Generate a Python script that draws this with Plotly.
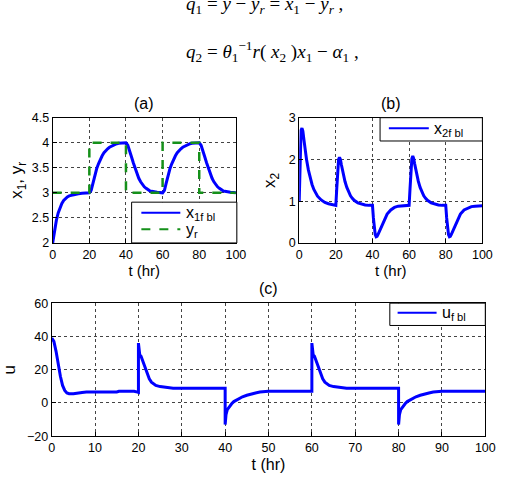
import plotly.graph_objects as go

# ---------------- data ----------------
t_x1 = [0,1,2,3,4,5,6,7,8,9,10,12,14,16,18,20,
        21,22,23,24,25,26,27,28,29,30,31,32,33,34,35,36,38,40,
        41,42,43,44,45,46,47,48,49,50,51,52,53,54,55,57,60,
        61,62,63,64,65,66,67,68,69,70,71,72,73,74,75,76,78,80,
        81,82,83,84,85,86,87,88,89,90,91,92,93,94,95,97,100]
x1 = [2.0,2.25,2.45,2.6,2.71,2.79,2.85,2.89,2.92,2.94,2.95,2.97,2.98,2.99,3.0,3.0,
      3.05,3.2,3.35,3.48,3.58,3.67,3.74,3.8,3.85,3.88,3.91,3.93,3.95,3.97,3.98,3.99,4.0,4.0,
      3.95,3.85,3.72,3.6,3.48,3.38,3.29,3.22,3.16,3.12,3.09,3.06,3.04,3.03,3.02,3.01,3.0,
      3.05,3.2,3.35,3.48,3.58,3.67,3.74,3.8,3.85,3.88,3.91,3.93,3.95,3.97,3.98,3.99,4.0,4.0,
      3.95,3.85,3.72,3.6,3.48,3.38,3.29,3.22,3.16,3.12,3.09,3.06,3.04,3.03,3.02,3.01,3.0]

t_yr = [0,20,20,40,40,60,60,80,80,100]
yr = [3,3,4,4,3,3,4,4,3,3]

t_x2 = [0,0.5,1,1.5,2,2.5,3,4,5,6,7,8,9,10,12,14,16,18,20,
        20.5,21,21.5,22,22.5,23,24,25,26,27,28,29,30,32,34,36,38,40,
        40.5,41,41.5,42,42.5,43,44,45,46,47,48,50,52,54,56,58,60,
        60.5,61,61.5,62,62.5,63,64,65,66,67,68,69,70,72,74,76,78,80,
        80.5,81,81.5,82,82.5,83,84,85,86,87,88,90,92,94,96,98,100]
x2 = [1.0,2.2,2.7,2.75,2.68,2.5,2.3,2.0,1.75,1.55,1.4,1.28,1.19,1.12,1.03,0.97,0.94,0.92,0.9,
      1.3,1.75,2.0,2.05,2.0,1.88,1.65,1.47,1.33,1.22,1.13,1.07,1.02,0.96,0.93,0.91,0.9,0.9,
      0.6,0.35,0.2,0.15,0.16,0.2,0.3,0.42,0.52,0.62,0.69,0.79,0.85,0.88,0.89,0.9,0.9,
      1.3,1.75,2.02,2.08,2.02,1.9,1.66,1.48,1.33,1.22,1.13,1.07,1.02,0.96,0.93,0.91,0.9,0.9,
      0.6,0.35,0.2,0.15,0.16,0.2,0.3,0.42,0.52,0.62,0.69,0.79,0.84,0.87,0.88,0.89,0.89]

t_u = [0,0.5,1,1.5,2,2.5,3,3.5,4,5,6,7,8,10,12,14,15,15.5,17,19,19.8,20,
       20,20.3,20.6,21,21.5,22,22.5,23,23.5,24,25,26,27,27.5,28,30,35,40,
       40,40.2,40.5,41,41.5,42,43,44,45,46,47,48,49,50,55,60,
       60,60.3,60.6,61,61.5,62,62.5,63,63.5,64,65,66,67,67.5,68,70,75,80,
       80,80.2,80.5,81,81.5,82,83,84,85,86,87,88,89,90,95,100]
u = [39,37,31,23,16,10.5,7.5,6,5.5,5.5,6,6.3,6.5,6.5,6.5,6.5,6.6,7,7,7,6.5,6.3,
     36,29,28,25,21,17,14.5,12.5,11.3,10.5,9.8,9.5,9.5,9.0,8.8,8.8,8.8,8.8,
     -13,-7,-4,-2,-0.5,0.8,2.5,3.7,4.6,5.4,6.0,6.5,6.8,7,7,7,
     36,29,28,25,21,17,14.5,12.5,11.3,10.5,9.8,9.5,9.5,9.0,8.8,8.8,8.8,8.8,
     -13,-7,-4,-2,-0.5,0.8,2.5,3.7,4.6,5.4,6.0,6.5,6.8,7,7,7]

legend_names = ["x<sub>1f bl</sub>", "y<sub>r</sub>", "x<sub>2f bl</sub>", "u<sub>f bl</sub>"]
panel_titles = ["(a)", "(b)", "(c)"]

# ---------------- figure ----------------
W, H = 507, 482
FONT = "Liberation Sans, Arial, sans-serif"
BLUE = "#0000ff"
GREEN = "#15901a"

def px_x(p):
    return p / W

def px_y(p):
    return 1 - p / H

fig = go.Figure()
fig.add_trace(go.Scatter(x=t_x1, y=x1, mode="lines", line=dict(color=BLUE, width=3),
                         name=legend_names[0], xaxis="x", yaxis="y"))
fig.add_trace(go.Scatter(x=t_yr, y=yr, mode="lines", line=dict(color=GREEN, width=2.5, dash="dash"),
                         name=legend_names[1], xaxis="x", yaxis="y"))
fig.add_trace(go.Scatter(x=t_x2, y=x2, mode="lines", line=dict(color=BLUE, width=3),
                         name=legend_names[2], xaxis="x2", yaxis="y2"))
fig.add_trace(go.Scatter(x=t_u, y=u, mode="lines", line=dict(color=BLUE, width=3),
                         name=legend_names[3], xaxis="x3", yaxis="y3"))

axcommon = dict(showline=True, linecolor="black", linewidth=1, mirror=True,
                showgrid=True, gridcolor="#444444", griddash="dot", gridwidth=1,
                zeroline=False, ticks="inside", ticklen=4, tickcolor="black",
                tickfont=dict(family=FONT, size=12.5, color="black"))

tfont = dict(family=FONT, size=15, color="black")
yfont = dict(family=FONT, size=17, color="black")

fig.update_layout(
    width=W, height=H, margin=dict(l=0, r=0, t=0, b=0),
    paper_bgcolor="white", plot_bgcolor="white",
    font=dict(family=FONT, color="black"),
    showlegend=False,
    xaxis=dict(domain=[px_x(51), px_x(239)], anchor="y", range=[0, 100], dtick=20,
               title=dict(text="t (hr)", font=tfont, standoff=4), **axcommon),
    yaxis=dict(domain=[px_y(243), px_y(114)], anchor="x", range=[2, 4.5], dtick=0.5,
               title=dict(text="x<sub>1</sub>, y<sub>r</sub>", font=yfont, standoff=4), **axcommon),
    xaxis2=dict(domain=[px_x(304), px_x(492)], anchor="y2", range=[0, 100], dtick=20,
                title=dict(text="t (hr)", font=tfont, standoff=4), **axcommon),
    yaxis2=dict(domain=[px_y(243), px_y(114)], anchor="x2", range=[0, 3], dtick=1,
                title=dict(text="x<sub>2</sub>", font=yfont, standoff=8), **axcommon),
    xaxis3=dict(domain=[px_x(50), px_x(495)], anchor="y3", range=[0, 100], dtick=10,
                title=dict(text="t (hr)", font=dict(family=FONT, size=16, color="black"), standoff=4),
                **axcommon),
    yaxis3=dict(domain=[px_y(442), px_y(305)], anchor="x3", range=[-20, 60], dtick=20,
                title=dict(text="u", font=yfont, standoff=8), **axcommon),
)

# panel titles
for txt, (px, py) in zip(panel_titles, [(145, 99), (398, 99), (272, 290)]):
    fig.add_annotation(xref="paper", yref="paper", x=px_x(px), y=px_y(py), showarrow=False,
                       xanchor="center", yanchor="middle", text=txt,
                       font=dict(family=FONT, size=16, color="black"))

# legend boxes (drawn as decorations in paper space)
def legend_box(x0, y0, x1b, y1b, entries):
    fig.add_shape(type="rect", xref="paper", yref="paper", layer="above",
                  x0=px_x(x0), x1=px_x(x1b), y0=px_y(y1b), y1=px_y(y0),
                  fillcolor="white", line=dict(color="black", width=1))
    for name, color, dash, width, lx0, lx1, ly, tx in entries:
        fig.add_shape(type="line", xref="paper", yref="paper", layer="above",
                      x0=px_x(lx0), x1=px_x(lx1), y0=px_y(ly), y1=px_y(ly),
                      line=dict(color=color, width=width, dash=dash))
        fig.add_annotation(xref="paper", yref="paper", x=px_x(tx), y=px_y(ly + 1),
                           xanchor="left", yanchor="middle", showarrow=False, text=name,
                           font=dict(family=FONT, size=16, color="black"))

legend_box(132, 201, 240, 243, [
    (legend_names[0], BLUE, "solid", 2, 142, 182, 212, 186),
    (legend_names[1], GREEN, "dash", 2, 142, 182, 229, 186),
])
legend_box(387, 114, 492, 138, [
    (legend_names[2], BLUE, "solid", 2, 396, 437, 125, 440),
])
legend_box(397, 305, 495, 328, [
    (legend_names[3], BLUE, "solid", 2, 405, 445, 315, 449),
])

SERIF = "Liberation Serif, Times New Roman, serif"
eq1 = ("<i>q</i><sub>1</sub> = <i>y</i> − <i>y</i><sub><i>r</i></sub> = "
       "<i>x</i><sub>1</sub> − <i>y</i><sub><i>r</i></sub> ,")
eq2 = ("<i>q</i><sub>2</sub> = <i>θ</i><sub>1</sub><sup>−1</sup><i>r</i>( <i>x</i><sub>2</sub> )"
       "<i>x</i><sub>1</sub> − <i>α</i><sub>1</sub> ,")
fig.add_annotation(xref="paper", yref="paper", x=px_x(186), y=px_y(-2), xanchor="left",
                   yanchor="middle", showarrow=False, text=eq1,
                   font=dict(family=SERIF, size=19, color="black"))
fig.add_annotation(xref="paper", yref="paper", x=px_x(186), y=px_y(46), xanchor="left",
                   yanchor="middle", showarrow=False, text=eq2,
                   font=dict(family=SERIF, size=19, color="black"))

fig.write_html("out.html")
